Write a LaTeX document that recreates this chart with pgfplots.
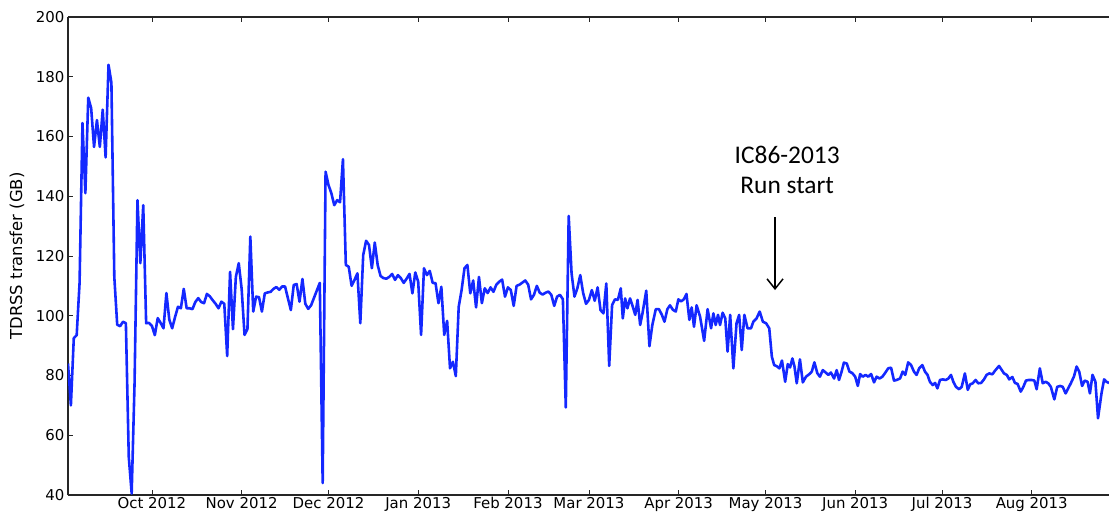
\documentclass[border=0pt]{standalone}
\usepackage{pgfplots}
\pgfplotsset{compat=1.18}
\usepackage{fontspec}
\setmainfont{DejaVu Sans}
\newfontfamily\calibri{Carlito}
\usetikzlibrary{arrows.meta}
\definecolor{lineblue}{RGB}{20,40,255}
\begin{document}
\begin{tikzpicture}
\useasboundingbox (-68bp,-23bp) rectangle (1041bp,495bp);
\begin{axis}[
  scale only axis, width=1041bp, height=478bp,
  xmin=-29, xmax=330.7, ymin=40, ymax=200,
  axis x line*=box, axis y line*=left,
  axis line style={line width=1.2pt, black!85},
  tick align=inside, major tick length=5bp,
  tick style={black!85, line width=0.8pt},
  xtick={0,31,61,92,123,151,182,212,243,273,304},
  xticklabels={Oct 2012,Nov 2012,Dec 2012,Jan 2013,Feb 2013,Mar 2013,Apr 2013,May 2013,Jun 2013,Jul 2013,Aug 2013},
  ytick={40,60,80,100,120,140,160,180,200},
  /pgf/number format/assume math mode=true,
  tick label style={font=\fontsize{15}{17}\selectfont},
  xticklabel style={yshift=1bp},
  ylabel={TDRSS transfer (GB)},
  ylabel style={font=\fontsize{16.5}{18}\selectfont, at={(axis description cs:-0.049,0.5)}, anchor=center},
]
\addplot[lineblue, line width=2.6pt, line join=round] coordinates {
(-29,84) (-28,70) (-27,92.5) (-26,93.5) (-25,111) (-24,164.5) (-23,141) (-22,173) (-21,169.5) (-20,156.5)
(-19,165.5) (-18,156.5) (-17,169) (-16,153) (-15,184) (-14,178) (-13,113) (-12,97) (-11,96.5) (-10,98)
(-9,97.5) (-8,52.7) (-7,40.5) (-6,77.5) (-5,138.7) (-4,117.6) (-3,137) (-2,97.5) (-1,97.6) (0,96.6)
(1,93.5) (2,99.2) (3,97.6) (4,95.8) (5,107.6) (6,98.7) (7,95.8) (8,99.6) (9,103) (10,102.5)
(11,109) (12,102.5) (13,102.5) (14,102.2) (15,104.6) (16,105.9) (17,104.6)
(18,104.2) (19,107.3) (20,106.5) (21,105.2) (22,104) (23,102.5) (24,104.7) (25,104) (26,86.5) (27,114.7)
(28,95.5) (29,113) (30,117.6) (31,109) (32,93.6) (33,95.5) (34,126.5) (35,101.4) (36,106.4) (37,106.2)
(38,101.4) (39,107.5) (40,107.8) (41,108) (42,109) (43,109.6) (44,108.7) (45,109.8) (46,109.8) (47,105.8)
(48,101.9) (49,110.3) (50,110.6) (51,104.7) (52,112.3) (53,104) (54,102.3) (55,103.5) (58,111) (59,44)
(60,148.2) (61,143.8) (62,141) (63,137) (64,138.7) (65,138) (66,152.4) (67,117) (68,116.4)
(69,110) (70,112) (71,114.2) (72,97.5) (73,120.3) (74,125.1) (75,123.7) (76,115.9) (77,124.5) (78,117)
(79,113.3) (80,112.6) (81,112.4) (82,113) (83,114) (84,112) (85,113.6) (86,112.6) (87,111) (88,112.4)
(89,114) (90,107.5) (91,114.5) (92,111.4) (93,93.6) (94,115.9) (95,113.6) (96,115) (97,111) (98,110.9)
(99,104.2) (100,109.7) (101,93.6) (102,98.3) (103,82.4) (104,84.6) (105,79.8) (106,103) (107,108.6) (108,115.9)
(109,117) (110,107.5) (111,111.8) (112,102.8) (113,113)
(114,104.2) (115,109.2) (116,107.6) (117,109.5) (118,108) (119,110.4) (120,111.4) (121,112.1) (122,106.4) (123,109.5)
(124,108.6) (125,103.3) (126,110) (127,110.4) (128,111.1) (129,111.8) (130,110.4) (131,105.5) (132,107) (133,110)
(134,107.7) (135,107.1) (136,107.7) (137,108.1) (138,107) (139,103.3) (140,106.4) (141,107) (142,105.5) (143,69.3)
(144,133.4) (145,114.2) (146,106.4) (147,109.2) (148,113.6) (149,107.6) (150,104) (151,105.3) (152,108.6) (153,105)
(154,109.5) (155,101.9) (156,100.8) (157,110.8) (158,83.2) (159,103.6) (160,105.5) (161,105.3) (162,109.2) (162.7,99.1)
(163.5,105.8) (164.3,102.5) (165.2,105.8) (166,103.5) (167,100.3) (167.8,105.3) (168.7,96.9) (169.5,100.8) (170.8,108.4) (171.9,89.8)
(172.9,96.9) (174.1,102.2) (175.2,102.2) (176.2,100.3) (177.1,98) (178.1,102.2) (179,103.5) (180,102) (181,101.4) (181.9,105.5)
(182.8,104.8) (183.8,105.5) (184.7,107.3) (185.7,98.6) (186.5,102.8) (187.3,96.3) (188.2,103.5) (189.4,99.7) (190.8,91.6) (192,102.2)
(193.2,95.8) (194,100.8) (194.8,96.9) (195.6,100.3) (196.3,96.9) (197.2,101) (198.1,99.1) (198.9,88) (199.8,100.3) (200.9,82.4)
(202,97.5) (202.9,100.3) (203.8,88.5) (204.7,100.3) (205.8,95.8) (207,95.8) (207.8,98) (208.9,99.1) (210,101.4) (211.1,98)
(212.2,97.5) (213.3,95.8)
(214.2,86.3) (215,83.5) (215.9,83.1) (216.8,82.4) (217.7,85) (218.8,77.9) (219.7,83.8) (220.5,82.7) (221.3,85.7) (222,83.1)
(222.8,77.4) (223.9,85.4) (224.9,77.7) (226,79.6) (227.2,80.5) (228,81.3) (228.9,84.4) (229.9,80.8) (230.8,79.6) (231.8,81.8)
(232.8,81) (233.7,80.2) (234.6,81) (235.7,79) (236.6,81.8) (237.4,78.5) (238.3,81.3) (239.1,84.3) (240.1,84) (241,81.3)
(242,80.8) (243,79.6) (243.9,76.5) (244.7,80.5) (245.6,79.6) (246.6,80.2) (247.5,79.6) (248.5,80.5) (249.5,77.7) (250.4,79.6)
(251.4,79) (252.4,79.6) (253.3,80.8) (254.4,82.4) (255.4,82.6) (256.4,78.3) (257.3,78.5) (258.5,79) (259.4,81.3) (260.3,80.2)
(261.3,84.4) (262.3,83.5) (263.3,81.3) (264.2,80.2) (265.1,82.4) (266.2,83.5) (267.1,81.3) (268,80.2)
(268.8,77.9) (269.8,76.8) (270.6,77.5) (271.4,75.7) (272.3,78.5) (273.2,78.7) (274.3,78.5) (275.2,79) (276.1,80.2) (276.9,77.9)
(277.8,76.2) (278.9,75.4) (279.8,76.2) (280.9,80.7) (281.9,75.2) (282.7,77) (283.6,77.4) (284.6,78.5) (285.5,77.4) (286.5,77.5)
(287.5,78.7) (288.4,80.2) (289.3,80.7) (290.4,80.4) (291.3,81.6) (292.7,83.2) (293.6,81.9) (294.4,80.7) (295.4,80.2) (296.2,78.7)
(297.3,79.5) (298.2,77.5) (299.1,77.2) (300.2,74.6) (301.1,76.2) (302,78.3) (303,78.5) (304,78.5) (304.9,78.3) (305.7,75.4)
(306.8,82.4) (307.8,77.4) (308.8,77.9) (309.7,77.4) (310.6,76.2) (311.8,72) (312.8,76.2) (313.8,76.5) (314.7,76.2) (315.7,74)
(316.6,75.7) (317.5,77.4) (318.6,79.7) (319.5,83) (320.4,81.3) (321.4,76.5) (322.3,78.3) (323.3,77.9) (324.1,74) (325,80.2)
(326,77.9) (326.9,65.7) (328.1,74) (329,78.7) (329.8,77.9) (330.7,77.5)
};
\node[font=\calibri\fontsize{25.5}{30}\selectfont, align=center] at (axis cs:219.5,148.8) {IC86-2013\\Run start};
\draw[-{Straight Barb[length=10bp,width=16bp]}, line width=1.5pt] (axis cs:215.3,133) -- (axis cs:215.3,108.6);
\end{axis}
\end{tikzpicture}
\end{document}
